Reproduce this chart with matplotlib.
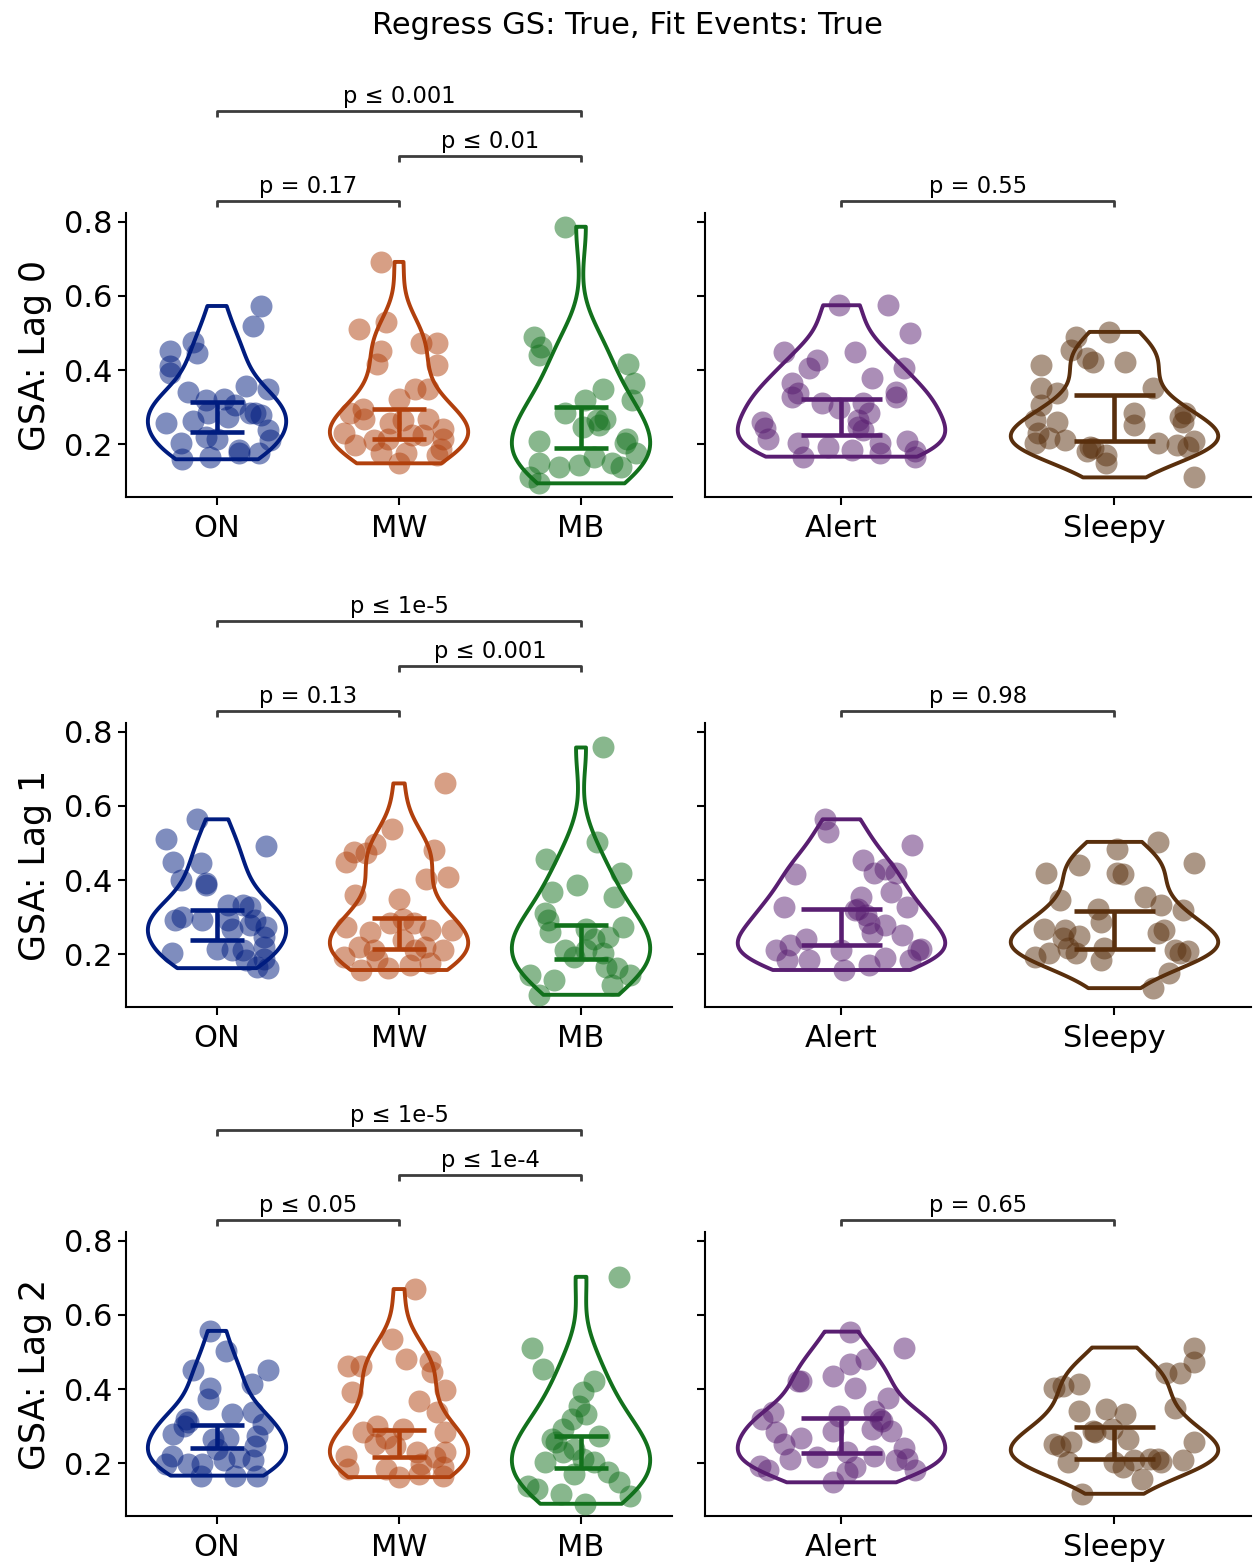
import numpy as np
from matplotlib import pyplot as plt


# category names and colours (seaborn "dark" palette)
mind_states = ["ON", "MW", "MB"]
vig_states = ["Alert", "Sleepy"]
row_labels = ["GSA: Lag 0", "GSA: Lag 1", "GSA: Lag 2"]
mind_colors = ["#001c7f", "#b1400d", "#12711c"]
vig_colors = ["#591e71", "#592f0d"]

# ---- lag 0 ----
on_lag0 = [.573, .519, .476, .445, .452, .411, .391, .341, .319, .323, .357, .349, .258, .263, .283,
           .305, .283, .278, .238, .211, .202, .159, .218, .166, .215, .184, .175, .175, .274, .283]
on_lag0_jit = [.24, .20, -.13, -.11, -.26, -.26, -.26, -.16, -.06, .04, .16, .28, -.28, -.13, -.05,
               .10, .18, .24, .28, .29, -.20, -.19, -.06, -.04, .00, .12, .12, .23, .06, .21]
mw_lag0 = [.692, .512, .530, .452, .416, .474, .474, .413, .348, .348, .323, .296, .269, .256, .265,
           .269, .242, .229, .197, .211, .224, .224, .215, .175, .148, .175, .170, .188, .215, .283]
mw_lag0_jit = [-.10, -.22, -.07, -.10, -.12, .12, .21, .21, .09, .16, .00, -.20, -.19, -.05, .02,
               .16, .24, -.30, -.24, -.14, .07, .13, .24, -.10, .00, .04, .21, .23, -.06, -.27]
mb_lag0 = [.787, .490, .463, .440, .416, .364, .319, .348, .319, .283, .265, .251, .209, .215, .202,
           .175, .148, .139, .143, .166, .148, .139, .112, .094, .269, .247]
mb_lag0_jit = [-.09, -.26, -.22, -.23, .26, .29, .28, .12, .02, -.09, .09, .10, -.23, .25, .24,
               .30, -.23, -.12, -.01, .07, .17, .22, -.28, -.23, .13, .01]
alert_lag0 = [.575, .575, .499, .450, .427, .405, .450, .405, .378, .364, .337, .328, .310, .297, .310,
              .283, .328, .342, .265, .238, .261, .243, .213, .202, .193, .184, .202, .166, .175, .207,
              .180, .166, .247]
alert_lag0_jit = [-.01, .17, .25, -.21, -.09, -.12, .05, .23, .11, -.18, -.16, -.18, -.07, -.01, .08,
                  .10, .20, .20, .06, .08, -.29, -.28, -.27, -.16, -.05, .04, .14, -.14, .14, .24,
                  .27, .27, .06]
sleepy_lag0 = [.503, .488, .454, .432, .423, .421, .414, .351, .337, .351, .306, .261, .265, .283, .252,
               .274, .261, .283, .229, .202, .216, .211, .193, .180, .171, .149, .202, .198, .207, .193,
               .110, .189]
sleepy_lag0_jit = [-.02, -.14, -.16, -.10, -.08, .04, -.27, -.27, -.21, .14, -.27, -.21, -.29, .07, .07,
                   .24, .25, .26, -.28, -.29, -.24, -.18, -.09, -.10, -.03, -.03, .16, .23, .29, .27,
                   .29, -.08]

# ---- lag 1 ----
on_lag1 = [.564, .512, .492, .449, .445, .400, .391, .386, .332, .332, .328, .301, .292, .292, .269,
           .292, .274, .247, .220, .202, .215, .211, .211, .184, .166, .162, .188, .278, .292]
on_lag1_jit = [-.11, -.28, .27, -.24, -.09, -.20, -.06, -.06, .06, .14, .18, -.19, -.08, .06, .08,
               .21, .27, .26, .26, -.25, .00, .08, .14, .16, .22, .28, .26, .18, -.23]
mw_lag1 = [.661, .539, .497, .472, .476, .449, .481, .409, .404, .359, .350, .296, .274, .260, .283,
           .283, .265, .265, .220, .211, .238, .220, .211, .193, .157, .162, .170, .175, .188, .211]
mw_lag1_jit = [.25, -.04, -.13, -.18, -.25, -.29, .19, .27, .15, -.24, .00, .02, -.29, -.16, -.05,
               .08, .17, .29, -.22, -.14, .02, .14, .24, -.30, -.21, -.06, .06, .17, -.12, .09]
mb_lag1 = [.758, .503, .458, .418, .368, .386, .355, .310, .292, .260, .274, .247, .269, .211, .193,
           .211, .202, .166, .162, .144, .117, .144, .130, .090, .242]
mb_lag1_jit = [.12, .09, -.19, .22, -.16, -.02, .18, -.20, -.18, -.17, .23, .15, .03, -.09, -.04,
               .03, .12, .14, .20, .27, .17, -.28, -.15, -.23, .07]
alert_lag1 = [.564, .530, .494, .454, .416, .418, .431, .418, .368, .355, .323, .305, .283, .256, .278,
              .251, .328, .328, .211, .224, .242, .184, .184, .211, .157, .171, .189, .184, .211, .215,
              .319]
alert_lag1_jit = [-.06, -.05, .26, .08, -.17, .12, .16, .20, .18, .07, .06, .09, .10, .11, .16,
                  .22, .24, -.21, -.24, -.19, -.13, -.20, -.12, .00, .01, .10, .16, .25, .28, .29,
                  .05]
sleepy_lag1 = [.503, .485, .447, .420, .440, .420, .416, .346, .323, .287, .355, .332, .319, .269, .265,
               .249, .256, .265, .202, .193, .216, .202, .216, .184, .211, .202, .207, .148, .108, .243]
sleepy_lag1_jit = [.16, .01, .29, -.25, -.13, .01, .03, -.20, -.06, -.05, .11, .17, .25, -.26, -.18,
                   -.13, .16, .18, -.24, -.29, -.17, -.14, -.04, -.05, .22, .24, .27, .20, .14, -.19]

# ---- lag 2 ----
on_lag2 = [.557, .503, .452, .452, .413, .404, .373, .319, .301, .332, .337, .305, .278, .265, .269,
           .274, .247, .220, .198, .198, .207, .216, .207, .166, .166, .166, .198, .238, .310]
on_lag2_jit = [-.04, .05, -.13, .28, .19, -.04, -.05, -.17, -.18, .08, .20, .25, -.24, -.02, .06,
               .22, .21, -.25, -.16, -.08, .04, .12, .20, -.09, .10, .22, -.28, .00, -.16]
mw_lag2 = [.670, .535, .482, .463, .463, .476, .445, .398, .391, .368, .337, .283, .301, .269, .292,
           .283, .220, .184, .184, .162, .229, .198, .171, .216, .229, .166, .188, .247, .251]
mw_lag2_jit = [.09, -.04, .04, -.28, -.21, .17, .18, .25, -.26, .11, .21, -.20, -.12, -.07, .02,
               .25, -.29, -.28, -.07, .00, .10, .12, .11, .20, .25, .24, .24, -.02, -.13]
mb_lag2 = [.703, .510, .455, .422, .391, .355, .332, .319, .274, .292, .256, .229, .238, .211, .202,
           .202, .171, .175, .148, .112, .139, .130, .117, .090, .265]
mb_lag2_jit = [.21, -.27, -.21, .07, .01, -.01, .03, -.05, .10, -.10, -.14, -.10, -.04, .01, .07,
               -.20, -.04, .15, .21, .27, -.29, -.24, -.11, .02, -.16]
alert_lag2 = [.555, .512, .481, .467, .436, .422, .422, .404, .377, .337, .319, .328, .341, .314, .287,
              .292, .287, .269, .283, .251, .211, .216, .229, .220, .207, .242, .211, .193, .180, .189,
              .175, .148, .180, .319]
alert_lag2_jit = [.03, .23, .09, .03, -.03, -.16, -.15, .05, .17, -.25, -.29, -.01, .12, .15, .18,
                  .11, -.03, -.15, -.24, -.21, -.19, -.09, .02, .12, .20, .23, .24, -.30, -.27, .05,
                  .02, -.03, .27, .14]
sleepy_lag2 = [.512, .472, .443, .443, .404, .409, .413, .350, .341, .346, .332, .287, .292, .265, .251,
               .247, .256, .202, .202, .189, .207, .211, .211, .202, .207, .256, .157, .117, .283]
sleepy_lag2_jit = [.29, .29, .19, .24, -.22, -.19, -.13, .22, -.13, -.03, .04, -.08, -.01, .05, -.22,
                   -.20, -.16, -.17, .00, .03, .07, .13, .16, .17, .25, .29, .10, -.12, -.07]

# 95% CI bounds
mind_ci_lo = [[.233, .213, .190], [.238, .215, .187], [.241, .217, .186]]
mind_ci_hi = [[.314, .295, .299], [.319, .298, .278], [.304, .289, .274]]
vig_ci_lo = [[.225, .207], [.224, .215], [.227, .211]]
vig_ci_hi = [[.322, .333], [.321, .317], [.321, .297]]

# p-value labels: ON-MW, MW-MB, ON-MB, Alert-Sleepy
p_on_mw = ["p = 0.17", "p = 0.13", "p ≤ 0.05"]
p_mw_mb = ["p ≤ 0.01", "p ≤ 0.001", "p ≤ 1e-4"]
p_on_mb = ["p ≤ 0.001", "p ≤ 1e-5", "p ≤ 1e-5"]
p_alert_sleepy = ["p = 0.55", "p = 0.98", "p = 0.65"]

mind_data = [[(on_lag0, on_lag0_jit), (mw_lag0, mw_lag0_jit), (mb_lag0, mb_lag0_jit)],
             [(on_lag1, on_lag1_jit), (mw_lag1, mw_lag1_jit), (mb_lag1, mb_lag1_jit)],
             [(on_lag2, on_lag2_jit), (mw_lag2, mw_lag2_jit), (mb_lag2, mb_lag2_jit)]]
vig_data = [[(alert_lag0, alert_lag0_jit), (sleepy_lag0, sleepy_lag0_jit)],
            [(alert_lag1, alert_lag1_jit), (sleepy_lag1, sleepy_lag1_jit)],
            [(alert_lag2, alert_lag2_jit), (sleepy_lag2, sleepy_lag2_jit)]]


def draw_group(ax, groups, colors, lo, hi, labels):
  pos = np.arange(len(groups))
  parts = ax.violinplot([g[0] for g in groups], positions=pos, widths=0.76,
                        showextrema=False, showmeans=False, showmedians=False)
  for body, c in zip(parts["bodies"], colors):
    body.set_facecolor("none")
    body.set_edgecolor(c)
    body.set_linewidth(2.8)
    body.set_alpha(1)
    body.set_zorder(2)
  for i, (vals, jit) in enumerate(groups):
    ax.scatter(i + np.array(jit), vals, s=250, color=colors[i], alpha=0.5,
               linewidths=0, zorder=3)
  for i, c in enumerate(colors):
    ax.vlines(i, lo[i], hi[i], color=c, lw=3.3, zorder=4)
    ax.hlines([lo[i], hi[i]], i - 0.15, i + 0.15, color=c, lw=3.3, zorder=4)
  ax.set_xticks(pos)
  ax.set_xticklabels(labels)
  ax.set_xlim(-0.5, len(groups) - 0.5)
  ax.set_ylim(0.057, 0.824)
  ax.set_yticks([0.2, 0.4, 0.6, 0.8])
  ax.spines["top"].set_visible(False)
  ax.spines["right"].set_visible(False)
  for s in ["left", "bottom"]:
    ax.spines[s].set_linewidth(1.5)
  ax.tick_params(labelsize=22, length=6, width=1.5)
  ax.tick_params(axis="x", pad=6)


def bracket(ax, x1, x2, y, text):
  h = 0.017
  ax.plot([x1, x1, x2, x2], [y - h, y, y, y - h], color="#3c3c3c", lw=2,
          clip_on=False, solid_capstyle="butt")
  ax.annotate(text, xy=((x1 + x2) / 2, y), xytext=(0, 2), textcoords="offset points",
              ha="center", va="bottom", fontsize=16.3, annotation_clip=False)


fig = plt.figure(figsize=(12.54, 15.62), dpi=100)
row_bottoms = [0.6818, 0.3553, 0.02945]
for r in range(3):
  axl = fig.add_axes([0.1005, row_bottoms[r], 0.4354, 0.1818])
  axr = fig.add_axes([0.5622, row_bottoms[r], 0.4354, 0.1818])
  draw_group(axl, mind_data[r], mind_colors, mind_ci_lo[r], mind_ci_hi[r], mind_states)
  draw_group(axr, vig_data[r], vig_colors, vig_ci_lo[r], vig_ci_hi[r], vig_states)
  axr.set_yticklabels([])
  axl.set_ylabel(row_labels[r], fontsize=25, labelpad=9)
  bracket(axl, 0, 1, 0.857, p_on_mw[r])
  bracket(axl, 1, 2, 0.978, p_mw_mb[r])
  bracket(axl, 0, 2, 1.100, p_on_mb[r])
  bracket(axr, 0, 1, 0.857, p_alert_sleepy[r])

fig.text(0.5, 1 - 26 / 1562, "Regress GS: True, Fit Events: True", ha="center",
         va="center", fontsize=22)

fig.savefig("out.png", dpi=100)
